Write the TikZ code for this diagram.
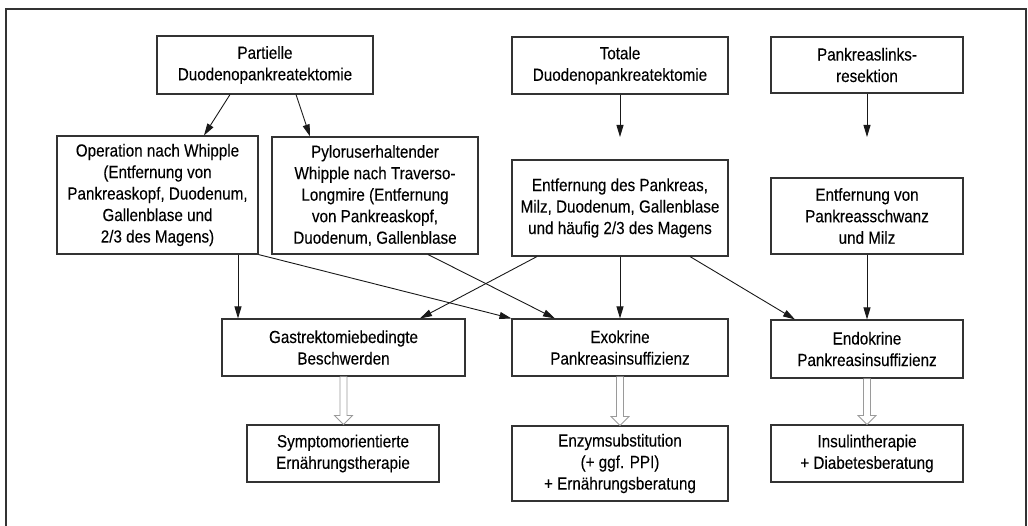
\documentclass[tikz,border=0pt]{standalone}
\usepackage{fontspec}
\setmainfont[FakeStretch=0.87,FakeBold=0.15]{Liberation Sans}
\usetikzlibrary{arrows.meta,calc}
\definecolor{boxline}{HTML}{333333}
\definecolor{hollowgray}{HTML}{9A9A9A}
\tikzset{
  box/.style={draw=boxline, line width=1.1pt, align=center, inner sep=0pt,
    font=\fontsize{17.5pt}{21.5pt}\selectfont, text=black},
  conn/.style={draw=black!90, line width=0.9pt, -{Triangle[length=12pt,width=7pt]}},
  hollow/.style={draw=hollowgray, line width=0.8pt, fill=white, line join=miter},
}
\newcommand{\hollowarrow}[2]{%
  \path let \p1=(#1.south), \p2=(#2.north) in
    [hollow] (\x1-3.5pt,\y1) -- (\x1-3.5pt,\y2+9pt) -- (\x1-9pt,\y2+9pt) -- (\x1,\y2)
      -- (\x1+9pt,\y2+9pt) -- (\x1+3.5pt,\y2+9pt) -- (\x1+3.5pt,\y1);
}
\begin{document}
\begin{tikzpicture}[x=1pt,y=-1pt]
\useasboundingbox (0,0) rectangle (1028,526);
\draw[draw=boxline, line width=1.5pt] (5.8,540) -- (5.8,9) -- (1026,9) -- (1026,540);

% row 1
\node[box, minimum width=216pt, minimum height=58pt] (P1) at (265,65) {Partielle\\Duodenopankreatektomie};
\node[box, minimum width=216pt, minimum height=57pt] (T) at (620,65.5) {Totale\\Duodenopankreatektomie};
\node[box, minimum width=192pt, minimum height=56pt] (L) at (867,65) {Pankreaslinks-\\resektion};
% row 2
\node[box, minimum width=201pt, minimum height=118pt] (Op) at (157.5,195) {Operation nach Whipple\\(Entfernung von\\Pankreaskopf, Duodenum,\\Gallenblase und\\2/3 des Magens)};
\node[box, minimum width=206pt, minimum height=117pt] (Py) at (375,195.5) {Pyloruserhaltender\\Whipple nach Traverso-\\Longmire (Entfernung\\von Pankreaskopf,\\Duodenum, Gallenblase};
\node[box, minimum width=216pt, minimum height=96pt] (E) at (620,208) {Entfernung des Pankreas,\\Milz, Duodenum, Gallenblase\\und häufig 2/3 des Magens};
\node[box, minimum width=192pt, minimum height=76pt] (ES) at (867,216) {Entfernung von\\Pankreasschwanz\\und Milz};
% row 3
\node[box, minimum width=243pt, minimum height=57pt] (G) at (343.5,347.5) {Gastrektomiebedingte\\Beschwerden};
\node[box, minimum width=216pt, minimum height=57pt] (X) at (620,347.5) {Exokrine\\Pankreasinsuffizienz};
\node[box, minimum width=192pt, minimum height=58pt] (N) at (867,349) {Endokrine\\Pankreasinsuffizienz};
% row 4
\node[box, minimum width=192pt, minimum height=57pt] (S) at (343,453.5) {Symptomorientierte\\Ernährungstherapie};
\node[box, minimum width=216pt, minimum height=75pt] (Z) at (620,463.5) {Enzymsubstitution\\(+ ggf. PPI)\\+ Ernährungsberatung};
\node[box, minimum width=192pt, minimum height=57pt] (I) at (867,453.5) {Insulintherapie\\+ Diabetesberatung};

\coordinate (tEnd) at (620,137);
\coordinate (lEnd) at (867,137);

% connectors
\draw[conn] ([xshift=-35pt]P1.south) -- ([xshift=46.5pt]Op.north);
\draw[conn] ([xshift=31pt]P1.south) -- ([xshift=-65pt]Py.north);
\draw[conn] (T.south) -- (tEnd);
\draw[conn] (L.south) -- (lEnd);
\draw[conn] ([xshift=80.5pt]Op.south) -- ([xshift=-105.5pt]G.north);
\draw[conn] (Op.south east) -- (X.north west);
\draw[conn] ([xshift=53pt]Py.south) -- ([xshift=-65pt]X.north);
\draw[conn] ([xshift=-83pt]E.south) -- ([xshift=76.5pt]G.north);
\draw[conn] (E.south) -- (X.north);
\draw[conn] ([xshift=70pt]E.south) -- ([xshift=-72pt]N.north);
\draw[conn] (ES.south) -- (N.north);

% hollow arrows
\hollowarrow{G}{S}
\hollowarrow{X}{Z}
\hollowarrow{N}{I}
\end{tikzpicture}
\end{document}
